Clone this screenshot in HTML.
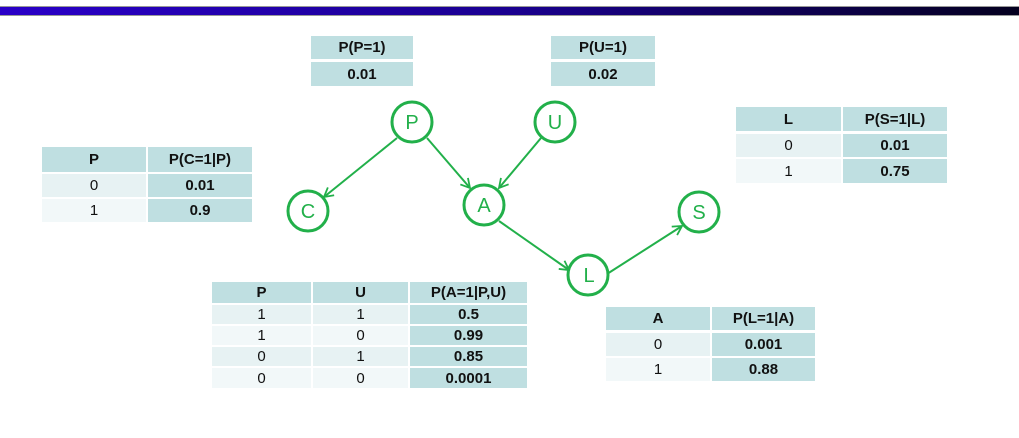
<!DOCTYPE html>
<html><head><meta charset="utf-8"><style>
body{margin:0;width:1019px;height:438px;background:#fff;position:relative;overflow:hidden;font-family:"Liberation Sans",Arial,sans-serif;}
.bar{position:absolute;left:0;top:6px;width:1019px;height:8px;background:linear-gradient(90deg,#2a00c8,#1a0090 50%,#04001f);border-top:1px solid #999;border-bottom:1px solid #999;}
.c{position:absolute;display:flex;align-items:center;justify-content:center;font-size:15px;color:#111;}
.h{background:#bfdfe1;font-weight:bold;}
.v{background:#bfdfe1;font-weight:bold;}
.a{background:#e7f2f3;}
.b{background:#f2f8f9;}
svg{position:absolute;left:0;top:0;}
</style></head><body>
<div class="bar"></div>
<svg width="1019" height="438">
<defs><marker id="m" markerWidth="12" markerHeight="12" refX="10" refY="6" orient="auto" markerUnits="userSpaceOnUse"><path d="M1,1 L10,6 L1,11" fill="none" stroke="#22b04a" stroke-width="1.8"/></marker></defs>
<g stroke="#22b04a" stroke-width="2" fill="none">
<line x1="397" y1="138" x2="324" y2="197" marker-end="url(#m)"/>
<line x1="427" y1="138" x2="470" y2="188" marker-end="url(#m)"/>
<line x1="541" y1="138" x2="499" y2="188" marker-end="url(#m)"/>
<line x1="499" y1="221" x2="569" y2="270" marker-end="url(#m)"/>
<line x1="607" y1="274" x2="682" y2="226" marker-end="url(#m)"/>
</g>
<g stroke="#22b04a" stroke-width="3" fill="#fff">
<circle cx="412" cy="122" r="20"/><circle cx="555" cy="122" r="20"/>
<circle cx="308" cy="211" r="20"/><circle cx="484" cy="205" r="20"/>
<circle cx="588" cy="275" r="20"/><circle cx="699" cy="212" r="20"/>
</g>
<g fill="#22b04a" font-family="Liberation Sans,Arial,sans-serif" font-size="20" text-anchor="middle">
<text x="412" y="129">P</text><text x="555" y="129">U</text><text x="308" y="218">C</text>
<text x="484" y="212">A</text><text x="589" y="282">L</text><text x="699" y="219">S</text>
</g>
</svg>
<!-- P(P=1) -->
<div class="c h" style="left:311px;top:36px;width:102px;height:23px">P(P=1)</div>
<div class="c v" style="left:311px;top:62px;width:102px;height:24px">0.01</div>
<div class="c h" style="left:551px;top:36px;width:104px;height:23px">P(U=1)</div>
<div class="c v" style="left:551px;top:62px;width:104px;height:24px">0.02</div>
<!-- C table -->
<div class="c h" style="left:42px;top:147px;width:104px;height:25px">P</div>
<div class="c h" style="left:148px;top:147px;width:104px;height:25px">P(C=1|P)</div>
<div class="c a" style="left:42px;top:174px;width:104px;height:23px">0</div>
<div class="c v" style="left:148px;top:174px;width:104px;height:23px">0.01</div>
<div class="c b" style="left:42px;top:199px;width:104px;height:23px">1</div>
<div class="c v" style="left:148px;top:199px;width:104px;height:23px">0.9</div>
<!-- S table -->
<div class="c h" style="left:736px;top:107px;width:105px;height:24px">L</div>
<div class="c h" style="left:843px;top:107px;width:104px;height:24px">P(S=1|L)</div>
<div class="c a" style="left:736px;top:134px;width:105px;height:23px">0</div>
<div class="c v" style="left:843px;top:134px;width:104px;height:23px">0.01</div>
<div class="c b" style="left:736px;top:159px;width:105px;height:24px">1</div>
<div class="c v" style="left:843px;top:159px;width:104px;height:24px">0.75</div>
<!-- A table -->
<div class="c h" style="left:212px;top:282px;width:99px;height:21px">P</div>
<div class="c h" style="left:313px;top:282px;width:95px;height:21px">U</div>
<div class="c h" style="left:410px;top:282px;width:117px;height:21px">P(A=1|P,U)</div>
<div class="c a" style="left:212px;top:305px;width:99px;height:19px">1</div>
<div class="c a" style="left:313px;top:305px;width:95px;height:19px">1</div>
<div class="c v" style="left:410px;top:305px;width:117px;height:19px">0.5</div>
<div class="c b" style="left:212px;top:326px;width:99px;height:19px">1</div>
<div class="c b" style="left:313px;top:326px;width:95px;height:19px">0</div>
<div class="c v" style="left:410px;top:326px;width:117px;height:19px">0.99</div>
<div class="c a" style="left:212px;top:347px;width:99px;height:19px">0</div>
<div class="c a" style="left:313px;top:347px;width:95px;height:19px">1</div>
<div class="c v" style="left:410px;top:347px;width:117px;height:19px">0.85</div>
<div class="c b" style="left:212px;top:368px;width:99px;height:20px">0</div>
<div class="c b" style="left:313px;top:368px;width:95px;height:20px">0</div>
<div class="c v" style="left:410px;top:368px;width:117px;height:20px">0.0001</div>
<!-- L table -->
<div class="c h" style="left:606px;top:307px;width:104px;height:23px">A</div>
<div class="c h" style="left:712px;top:307px;width:103px;height:23px">P(L=1|A)</div>
<div class="c a" style="left:606px;top:333px;width:104px;height:23px">0</div>
<div class="c v" style="left:712px;top:333px;width:103px;height:23px">0.001</div>
<div class="c b" style="left:606px;top:358px;width:104px;height:23px">1</div>
<div class="c v" style="left:712px;top:358px;width:103px;height:23px">0.88</div>
</body></html>
